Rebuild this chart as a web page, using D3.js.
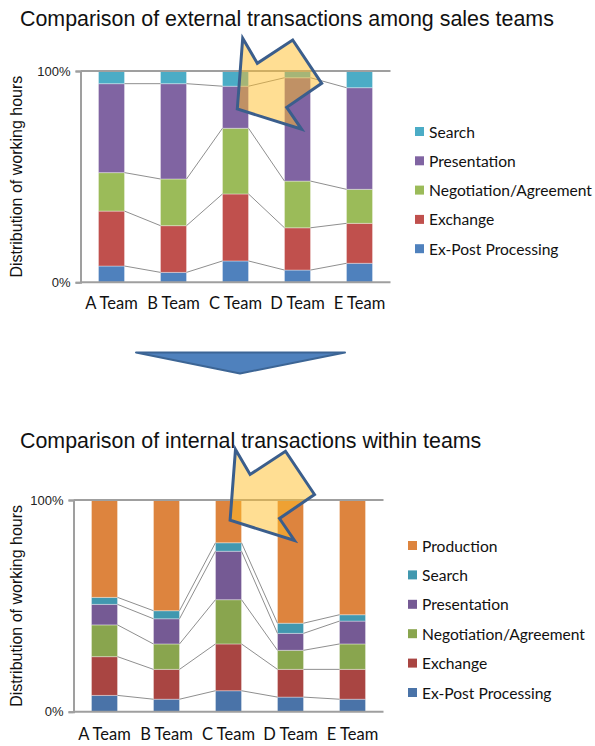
<!DOCTYPE html>
<html>
<head>
<meta charset="utf-8">
<script src="https://cdn.jsdelivr.net/npm/d3@7"></script>
<style>
  html, body { margin: 0; padding: 0; background: #fff; }
  svg { display: block; }
</style>
</head>
<body>
<svg id="chart" width="595" height="746"></svg>
<script>
// Teams on the x axis
const teams = ["A Team", "B Team", "C Team", "D Team", "E Team"];
const yTickLabels = ["0%", "100%"];

// External transactions (share of working hours, %), stacked bottom to top
const extSeries = ["Ex-Post Processing", "Exchange", "Negotiation/Agreement", "Presentation", "Search"];
const extExPost       = [7.7, 4.7, 10.1, 5.8, 9.0];
const extExchange     = [26.0, 22.1, 31.7, 20.0, 18.9];
const extNegotiation  = [18.2, 22.1, 31.1, 22.1, 16.1];
const extPresentation = [42.1, 45.1, 19.9, 48.9, 48.1];
const extSearch       = [6.0, 6.0, 7.2, 3.2, 7.9];

// Internal transactions (share of working hours, %), stacked bottom to top
const intSeries = ["Ex-Post Processing", "Exchange", "Negotiation/Agreement", "Presentation", "Search", "Production"];
const intExPost       = [7.7, 5.9, 9.9, 6.9, 5.9];
const intExchange     = [18.3, 14.1, 22.1, 13.1, 14.1];
const intNegotiation  = [15.0, 12.0, 20.9, 9.0, 12.0];
const intPresentation = [9.7, 11.9, 22.9, 8.0, 10.8];
const intSearch       = [3.3, 3.8, 4.0, 4.8, 3.0];
const intProduction   = [46.0, 52.3, 20.2, 58.2, 54.2];

const extColors = ["#4F81BD", "#C0504D", "#9BBB59", "#8064A2", "#4BACC6"];
const intColors = ["#4A73A8", "#A94542", "#89A54E", "#755A94", "#4198AF", "#DD843E"];

const svg = d3.select("#chart");
const sansA = "'Liberation Sans', Arial, sans-serif";
const sansC = "Lato, 'Open Sans', sans-serif";

function buildRows(series, arrays) {
  return teams.map((t, i) => {
    const row = { team: t };
    series.forEach((s, k) => { row[s] = arrays[k][i]; });
    return row;
  });
}

function drawChart(cfg) {
  const rows = buildRows(cfg.series, cfg.values);
  const stacked = d3.stack().keys(cfg.series).offset(d3.stackOffsetExpand)(rows);

  const x = d3.scaleBand().domain(teams).range([cfg.left, cfg.right])
    .paddingInner(0.58).paddingOuter(0.29);
  const y = d3.scaleLinear().domain([0, 1]).range([cfg.bottom, cfg.top]);

  const g = svg.append("g");

  // stacked bars
  const layers = g.selectAll("g.layer").data(stacked).join("g")
    .attr("fill", (d, k) => cfg.colors[k]);
  layers.selectAll("rect").data(d => d).join("rect")
    .attr("x", d => x(d.data.team))
    .attr("width", x.bandwidth())
    .attr("y", d => y(d[1]))
    .attr("height", d => y(d[0]) - y(d[1]))
    .attr("stroke", "rgba(255,255,255,0.35)")
    .attr("stroke-width", 1);

  // series lines joining the segment tops of neighbouring bars
  const links = [];
  stacked.slice(0, stacked.length - 1).forEach(layer => {
    for (let i = 0; i < layer.length - 1; i++) {
      links.push({
        x1: x(teams[i]) + x.bandwidth(), y1: y(layer[i][1]),
        x2: x(teams[i + 1]), y2: y(layer[i + 1][1])
      });
    }
  });
  g.selectAll("line.link").data(links).join("line")
    .attr("x1", d => d.x1).attr("y1", d => d.y1)
    .attr("x2", d => d.x2).attr("y2", d => d.y2)
    .attr("stroke", "#8f8f8f").attr("stroke-width", 1);

  // frame: 100% gridline, baseline and left axis
  const axisColor = "#9f9f9f";
  const yAxis = d3.axisLeft(y).tickValues([0, 1])
    .tickFormat((d, i) => yTickLabels[i]).tickSize(5).tickPadding(5);
  const ya = g.append("g").attr("transform", `translate(${cfg.left},0)`).call(yAxis);
  ya.select(".domain").attr("stroke", axisColor).attr("stroke-width", 2);
  ya.selectAll(".tick line").attr("stroke", axisColor).attr("stroke-width", 2);
  ya.selectAll(".tick text").attr("font-family", sansA).attr("font-size", 13).attr("fill", "#222");

  [0, 1].forEach(v => {
    g.append("line").attr("x1", cfg.left).attr("x2", cfg.right)
      .attr("y1", y(v)).attr("y2", y(v))
      .attr("stroke", axisColor).attr("stroke-width", 2);
  });

  // team labels
  const xAxis = d3.axisBottom(x).tickSize(0).tickPadding(0);
  const xa = g.append("g").attr("transform", `translate(0,${cfg.bottom})`).call(xAxis);
  xa.select(".domain").remove();
  xa.selectAll(".tick text").attr("font-family", sansC).attr("font-size", 16.5)
    .attr("fill", "#111").attr("dy", null).attr("y", cfg.xLabelY - cfg.bottom);

  // y title
  g.append("text")
    .attr("transform", `translate(${cfg.yTitleX},${(cfg.top + cfg.bottom) / 2}) rotate(-90)`)
    .attr("text-anchor", "middle")
    .attr("font-family", sansA).attr("font-size", 16).attr("fill", "#111")
    .text("Distribution of working hours");

  // chart title
  g.append("text").attr("x", 20).attr("y", cfg.titleY)
    .attr("font-family", sansA).attr("font-size", 21.4).attr("fill", "#111")
    .text(cfg.title);

  // legend (top of stack listed first)
  const legendItems = cfg.series.map((s, k) => ({ name: s, color: cfg.colors[k] })).reverse();
  const lg = g.append("g");
  const items = lg.selectAll("g").data(legendItems).join("g")
    .attr("transform", (d, i) => `translate(${cfg.legendX},${cfg.legendY + i * cfg.legendStep})`);
  items.append("rect").attr("x", 0).attr("y", -5).attr("width", 9).attr("height", 9)
    .attr("fill", d => d.color);
  items.append("text").attr("x", 14).attr("y", 5.5)
    .attr("font-family", sansC).attr("font-size", 15.6).attr("fill", "#111")
    .text(d => d.name);
}

drawChart({
  title: "Comparison of external transactions among sales teams",
  titleY: 26,
  series: extSeries,
  values: [extExPost, extExchange, extNegotiation, extPresentation, extSearch],
  colors: extColors,
  left: 80.5, right: 390.5, top: 71, bottom: 282.3,
  xLabelY: 309.5, yTitleX: 21.5,
  legendX: 415, legendY: 132, legendStep: 29.3
});

drawChart({
  title: "Comparison of internal transactions within teams",
  titleY: 447.5,
  series: intSeries,
  values: [intExPost, intExchange, intNegotiation, intPresentation, intSearch, intProduction],
  colors: intColors,
  left: 73.5, right: 383.5, top: 500, bottom: 711.7,
  xLabelY: 740.5, yTitleX: 21.5,
  legendX: 408, legendY: 546, legendStep: 29.4
});

// downward arrow between the two charts
svg.append("path")
  .attr("d", "M136,352.5 L345,352.5 L240,373.5 Z")
  .attr("fill", "#4F81BD").attr("stroke", "#3C6595").attr("stroke-width", 2)
  .attr("stroke-linejoin", "round");

// highlight arrows pointing at the top of the C Team / D Team bars
const calloutShape = [[0, 0], [14.6, 25], [50, 1.7], [79, 45], [44, 69], [59, 91], [-5.4, 70.7]];
function callout(ox, oy) {
  svg.append("path")
    .attr("d", "M" + calloutShape.map(p => `${ox + p[0]},${oy + p[1]}`).join(" L") + " Z")
    .attr("fill", "rgba(255,190,40,0.5)")
    .attr("stroke", "#3B5E8C").attr("stroke-width", 3)
    .attr("stroke-linejoin", "miter");
}
callout(242.7, 38.3);
callout(235.5, 449.5);
</script>
</body>
</html>
